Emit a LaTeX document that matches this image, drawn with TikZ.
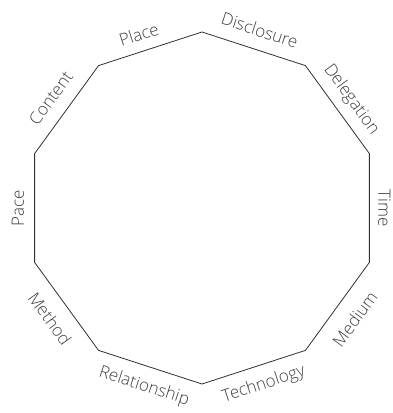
\documentclass[tikz,border=0pt]{standalone}
\usepackage{fontspec}
\setmainfont{Open Sans Light}
\definecolor{labelgray}{HTML}{404040}
\definecolor{linegray}{HTML}{303030}
\begin{document}
\begin{tikzpicture}[x=1pt,y=1pt,
  lbl/.style={font=\fontsize{17}{20}\selectfont, text=labelgray, inner sep=0pt},
  edge/.style={draw=linegray, line width=0.8pt, line join=miter}]
\useasboundingbox (0,0) rectangle (393,413);
\coordinate (c) at (202,205);
\foreach \i in {0,...,9} {
  \path (c) ++(90+36*\i:176) coordinate (v\i);
}
\draw[edge] (v0) -- (v1) -- (v2) -- (v3) -- (v4) -- (v5) -- (v6) -- (v7) -- (v8) -- (v9) -- cycle;
\path (c) ++(110:184.6) node[lbl, rotate=18] (place) {Place};
\path (c) ++(144:186.9) node[lbl, rotate=54] (content) {Content};
\path (c) ++(180:184) node[lbl, rotate=90] (pace) {Pace};
\path (c) ++(216:188) node[lbl, rotate=-54] (method) {Method};
\path (c) ++(252:187.8) node[lbl, rotate=-18] (relationship) {Relationship};
\path (c) ++(289.3:187.1) node[lbl, rotate=18] (technology) {Technology};
\path (c) ++(324:188.8) node[lbl, rotate=54] (medium) {Medium};
\path (c) ++(0:182.4) node[lbl, rotate=-90] (time) {Time};
\path (c) ++(36:184.4) node[lbl, rotate=-54] (delegation) {Delegation};
\path (c) ++(72:187) node[lbl, rotate=-18] (disclosure) {Disclosure};
\end{tikzpicture}
\end{document}
